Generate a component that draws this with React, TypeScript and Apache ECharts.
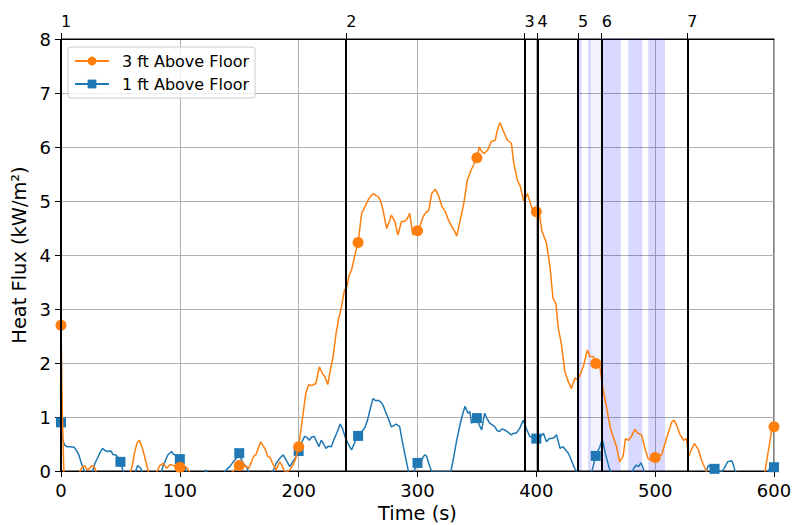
import React, { useEffect, useRef } from "react";
import * as echarts from "echarts";

const FONT = "DejaVu Sans";

// 3 ft above floor (orange)
const threeFtTime = [
  0, 1, 2.5, 8, 15, 18, 20, 22, 24, 26, 28, 30, 40, 50, 58, 60, 62, 64, 66, 68, 70, 72, 74, 80, 83, 86, 89, 92, 95, 97,
  100, 103, 106, 108, 120, 140, 146, 148, 150, 152, 155, 158, 160, 162, 164, 166, 168, 170, 172, 174, 176, 178, 181, 184,
  186, 188, 190, 192.5, 195, 197, 200, 203, 206, 208.5, 211, 214.5, 217.5, 220, 222, 224.5, 226.5, 229, 231.5, 233.5, 236,
  238.5, 240.5, 242.5, 244.5, 247, 250, 253, 256, 258.5, 261, 263, 265, 267, 269, 271, 274, 276, 278, 281, 283.5, 286.5,
  289, 291, 293.5, 296, 298, 300, 302.5, 304.5, 306.5, 309.5, 312, 315, 318, 320.5, 323.5, 326, 329, 331, 333, 336, 339,
  342, 345, 347.5, 350, 352, 354, 356, 359, 362, 365.5, 367, 369.5, 372, 375.5, 379, 381, 384, 386.5, 389.5, 392.5, 395,
  397, 400, 403, 404.5, 408.5, 411.5, 414, 416.5, 418.5, 421, 424, 427, 429.5, 432.5, 435, 439.5, 443, 445, 448, 450,
  453.5, 456, 459, 462, 464.5, 467.5, 470, 473, 475, 477.5, 480, 483, 485.5, 488.5, 491, 494, 497, 500, 505.5, 509.5,
  514, 516, 518, 521, 524, 526.5, 528, 531, 533, 536.5, 539, 542, 545, 550, 570, 590, 592.5, 598, 600,
];
const threeFtFlux = [
  2.7, 1.2, -0.1, -0.2, -0.05, 0.08, 0.1, 0.02, 0.05, 0.1, 0.08, -0.05, -0.2, -0.2, -0.05, 0.1, 0.35, 0.52, 0.57, 0.45,
  0.3, 0.12, -0.05, -0.05, 0.1, 0.14, 0.05, 0.12, 0.1, 0.05, 0.07, 0.1, 0.06, -0.02, -0.2, -0.1, 0.02, 0.08, 0.1, 0.06,
  0.1, 0.05, 0.15, 0.27, 0.3, 0.42, 0.54, 0.47, 0.4, 0.27, 0.25, 0.14, 0.02, 0.17, 0.1, 0.0, -0.02, 0.02, 0.1, 0.2, 0.45,
  0.94, 1.44, 1.6, 1.58, 1.62, 1.93, 1.8, 1.75, 1.6, 1.85, 2.12, 2.55, 2.8, 3.04, 3.35, 3.41, 3.62, 3.72, 3.97, 4.23,
  4.77, 4.9, 5.02, 5.1, 5.14, 5.1, 5.08, 5.0, 4.83, 4.49, 4.6, 4.74, 4.62, 4.37, 4.62, 4.62, 4.66, 4.77, 4.37, 4.45, 4.45,
  4.56, 4.7, 4.77, 4.83, 5.14, 5.22, 5.08, 4.9, 4.8, 4.65, 4.52, 4.45, 4.35, 4.65, 4.96, 5.39, 5.57, 5.68, 5.8, 6.0,
  5.92, 5.88, 5.94, 6.1, 6.13, 6.3, 6.45, 6.31, 6.13, 6.07, 5.7, 5.39, 5.27, 4.99, 5.14, 4.96, 4.83, 4.8, 4.71, 4.46,
  4.22, 3.78, 3.2, 3.1, 2.64, 2.36, 1.84, 1.65, 1.53, 1.72, 1.69, 1.93, 2.24, 2.12, 2.12, 1.99, 1.93, 1.53, 1.19, 0.82,
  0.64, 0.45, 0.17, 0.27, 0.6, 0.57, 0.64, 0.77, 0.7, 0.67, 0.45, 0.23, 0.2, 0.25, 0.3, 0.6, 0.91, 0.94, 0.85, 0.67, 0.57,
  0.6, 0.27, 0.42, 0.51, 0.39, 0.2, 0.05, -0.1, -0.2, -0.2, -0.1, 0.0, 0.75, 0.82,
];

// 1 ft above floor (blue)
const oneFtTime = [
  0, 1, 3, 5, 8, 11, 13, 15, 17, 19, 21, 26, 28.5, 31, 33, 35, 37, 39.5, 42, 44, 46, 48, 50, 52, 54, 62, 64.5, 67, 69,
  84, 86, 88, 90, 93, 95, 97, 100, 103, 105, 107, 120, 122, 124, 136, 139, 142, 145, 147, 150, 152, 154, 156, 158, 165,
  176, 178.5, 181, 184, 187, 189.5, 192.5, 195, 197.5, 200, 203, 205, 207, 209, 211, 213, 215, 217, 219, 221, 223, 225,
  227.5, 230, 232, 235, 237, 239, 241.5, 244.5, 247, 250, 253, 256, 258, 260, 262.5, 265, 267, 269, 271, 273, 275, 278,
  280, 282, 285, 287.5, 289.5, 291, 292.5, 296, 298, 300, 302, 304, 306, 307.5, 309.5, 312, 328, 330, 333, 336, 338, 340,
  342.5, 344, 345.5, 348, 350, 352, 354, 356.5, 359, 361, 365, 367, 369, 371, 373.5, 376, 379, 381, 383, 386, 389, 391.5,
  394.5, 397, 400, 403, 406, 408.5, 411, 413, 415, 417, 420, 422.5, 425, 427, 430, 432, 434, 440, 446.5, 448, 450, 452,
  453.5, 455.5, 458, 461, 463, 480, 482, 484, 486, 488, 490, 491, 500, 540, 543, 545, 547, 550, 553, 556, 558, 561, 564.5,
  566, 567.5, 580, 595, 598, 600,
];
const oneFtFlux = [
  0.9, 0.6, 0.48, 0.45, 0.45, 0.44, 0.38, 0.3, 0.15, 0.04, -0.05, -0.05, 0.14, 0.25, 0.35, 0.42, 0.38, 0.36, 0.37, 0.3,
  0.3, 0.25, 0.17, 0.02, -0.1, -0.05, 0.1, 0.05, -0.05, -0.05, 0.1, 0.2, 0.3, 0.36, 0.3, 0.3, 0.22, 0.14, 0.02, -0.1,
  -0.05, 0.02, -0.1, -0.05, 0.02, 0.08, 0.17, 0.22, 0.33, 0.2, 0.12, 0.08, -0.02, -0.15, -0.05, 0.0, 0.14, 0.23, 0.3, 0.2,
  0.08, 0.17, 0.25, 0.37, 0.55, 0.64, 0.62, 0.57, 0.63, 0.64, 0.55, 0.45, 0.57, 0.5, 0.42, 0.46, 0.45, 0.6, 0.7, 0.87,
  0.78, 0.64, 0.51, 0.39, 0.52, 0.65, 0.72, 0.82, 0.95, 1.13, 1.34, 1.3, 1.31, 1.28, 1.22, 1.1, 1.0, 0.82, 0.84, 0.87,
  0.82, 0.51, 0.3, 0.14, -0.02, -0.1, 0.05, 0.15, 0.2, 0.23, 0.3, 0.28, 0.14, -0.02, -0.02, 0.2, 0.57, 0.88, 1.05, 1.2,
  1.07, 1.1, 0.88, 1.0, 0.98, 0.85, 0.76, 1.07, 0.95, 0.88, 0.82, 0.75, 0.73, 0.78, 0.76, 0.72, 0.67, 0.7, 0.7, 0.79,
  0.94, 0.79, 0.64, 0.62, 0.6, 0.62, 0.7, 0.54, 0.6, 0.6, 0.62, 0.67, 0.42, 0.45, 0.38, 0.33, 0.17, 0.06, -0.02, -0.1,
  -0.02, 0.1, 0.28, 0.38, 0.45, 0.59, 0.33, 0.08, -0.05, -0.05, 0.05, 0.11, 0.08, 0.15, 0.05, -0.05, -0.2, -0.1, 0.0,
  0.11, 0.06, 0.04, 0.0, -0.02, 0.05, 0.17, 0.19, 0.1, -0.02, -0.1, -0.02, 0.14, 0.07,
];

const markerTimes = [0, 50, 100, 150, 200, 250, 300, 350, 400, 450, 500, 550, 600];

const eventTimes = [0, 240, 390, 401, 435, 455, 527];
const eventLabels = ["1", "2", "3", "4", "5", "6", "7"];

const bandStarts = [435, 443.5, 446, 455, 477.3, 494.2];
const bandEnds = [438.2, 446, 455, 471, 489.2, 508.3];
const bandStrength = ["strong", "strong", "faint", "strong", "strong", "strong"];

const xTicks = { min: 0, max: 600, step: 100 };
const yTicks = { min: 0, max: 8, step: 1 };

const ORANGE = "#ff7f0e";
const BLUE = "#1f77b4";

function pairs(ts: number[], vs: number[]) {
  return ts.map((t, i) => [t, vs[i]]);
}

export default function App() {
  const ref = useRef<HTMLDivElement>(null);

  useEffect(() => {
    document.body.style.margin = "0";
    if (!ref.current) return;
    const chart = echarts.init(ref.current, undefined, { renderer: "svg" });
    const markerSize = (size: number) => (val: number[]) => (markerTimes.includes(val[0]) ? size : 0);

    const option: any = {
      animation: false,
      backgroundColor: "#fff",
      textStyle: { fontFamily: FONT },
      grid: {
        left: 61,
        right: 19,
        top: 39,
        bottom: 54,
        outerBoundsMode: "none",
        containLabel: false,
        show: true,
        borderColor: "#000",
        borderWidth: 1,
        backgroundColor: "transparent",
      },
      legend: {
        orient: "vertical",
        left: 68,
        top: 47,
        data: ["3 ft Above Floor", "1 ft Above Floor"],
        itemWidth: 34,
        itemHeight: 11,
        itemGap: 7,
        padding: [6, 6, 6, 6],
        borderColor: "#cccccc",
        borderWidth: 1,
        borderRadius: 3,
        backgroundColor: "rgba(255,255,255,0.8)",
        textStyle: { fontFamily: FONT, fontSize: 16, color: "#000", padding: [0, 0, 0, 8] },
      },
      xAxis: [
        {
          type: "value",
          position: "bottom",
          min: xTicks.min,
          max: xTicks.max,
          interval: xTicks.step,
          name: "Time (s)",
          nameLocation: "middle",
          nameGap: 30,
          nameTextStyle: { fontFamily: FONT, fontSize: 19.4, color: "#000" },
          axisLine: { show: true, lineStyle: { color: "#000", width: 1 } },
          axisTick: { show: true, inside: false, length: 6, lineStyle: { color: "#000" } },
          axisLabel: { fontFamily: FONT, fontSize: 18, color: "#000", margin: 10 },
          splitLine: { show: true, lineStyle: { color: "#b0b0b0", width: 1 } },
        },
        {
          type: "value",
          position: "top",
          min: xTicks.min,
          max: xTicks.max,
          axisLine: { show: true, lineStyle: { color: "#000", width: 1 } },
          axisTick: { show: true, inside: false, length: 6, customValues: eventTimes, lineStyle: { color: "#000" } },
          axisLabel: {
            customValues: eventTimes,
            align: "left",
            fontFamily: FONT,
            fontSize: 16,
            color: "#000",
            margin: 10,
            formatter: (v: number) => {
              const i = eventTimes.indexOf(v);
              return i < 0 ? "" : eventLabels[i];
            },
          },
          splitLine: { show: false },
        },
      ],
      yAxis: {
        type: "value",
        min: yTicks.min,
        max: yTicks.max,
        interval: yTicks.step,
        name: "Heat Flux (kW/m²)",
        nameLocation: "middle",
        nameGap: 21,
        nameRotate: 90,
        nameTextStyle: { fontFamily: FONT, fontSize: 19.4, color: "#000" },
        axisLine: { show: true, lineStyle: { color: "#000", width: 1 } },
        axisTick: { show: true, inside: false, length: 6, lineStyle: { color: "#000" } },
        axisLabel: { fontFamily: FONT, fontSize: 18, color: "#000", margin: 10 },
        splitLine: { show: true, lineStyle: { color: "#b0b0b0", width: 1 } },
      },
      series: [
        {
          name: "bands",
          type: "line",
          xAxisIndex: 0,
          data: [],
          z: 1,
          silent: true,
          markArea: {
            silent: true,
            data: bandStarts.map((s, i) => [
              {
                xAxis: s,
                itemStyle: {
                  color: bandStrength[i] === "strong" ? "rgba(0,0,255,0.15)" : "rgba(0,0,255,0.05)",
                },
              },
              { xAxis: bandEnds[i] },
            ]),
          },
        },
        {
          name: "events",
          type: "line",
          xAxisIndex: 0,
          data: [],
          z: 2,
          silent: true,
          markLine: {
            silent: true,
            symbol: "none",
            label: { show: false },
            lineStyle: { color: "#000", width: 2, type: "solid" },
            data: eventTimes.map((t) => ({ xAxis: t })),
          },
        },
        {
          name: "1 ft Above Floor",
          type: "line",
          xAxisIndex: 0,
          z: 3,
          data: pairs(oneFtTime, oneFtFlux),
          symbol: "rect",
          symbolSize: markerSize(10),
          showSymbol: true,
          showAllSymbol: true,
          clip: true,
          color: BLUE,
          lineStyle: { color: BLUE, width: 1.5 },
          itemStyle: { color: BLUE },
        },
        {
          name: "3 ft Above Floor",
          type: "line",
          xAxisIndex: 0,
          z: 4,
          data: pairs(threeFtTime, threeFtFlux),
          symbol: "circle",
          symbolSize: markerSize(11),
          showSymbol: true,
          showAllSymbol: true,
          clip: true,
          color: ORANGE,
          lineStyle: { color: ORANGE, width: 1.5 },
          itemStyle: { color: ORANGE },
        },
      ],
    };
    chart.setOption(option);
    return () => chart.dispose();
  }, []);

  return <div ref={ref} style={{ width: 793, height: 525 }} />;
}
